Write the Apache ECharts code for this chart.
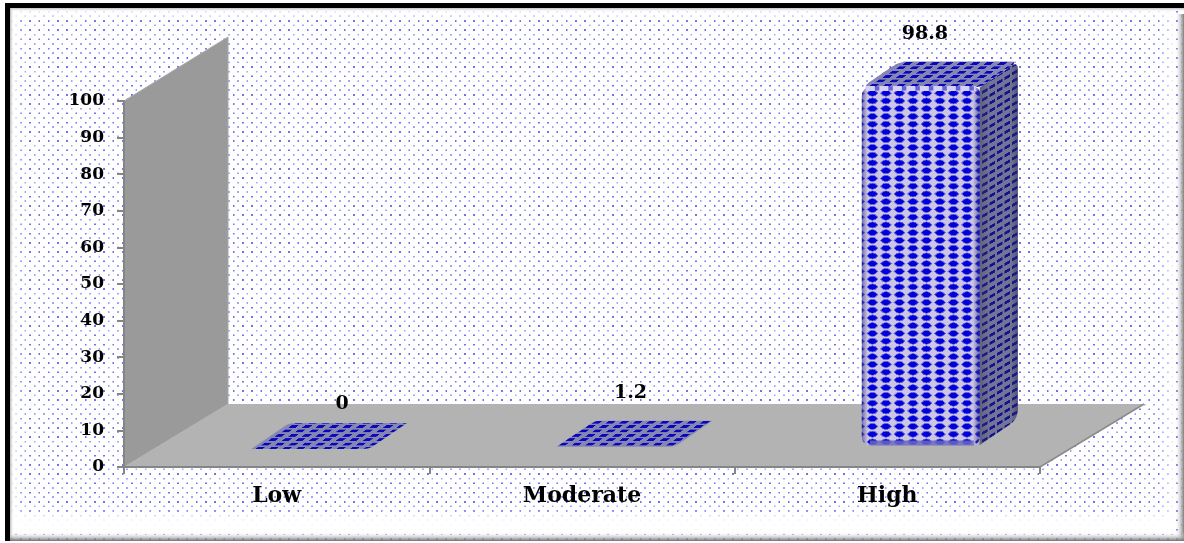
<!DOCTYPE html>
<html>
<head>
<meta charset="utf-8">
<style>
  html, body { margin: 0; padding: 0; background: #fff; }
  #chart { width: 1184px; height: 543px; }
</style>
<script src="https://cdn.jsdelivr.net/npm/echarts@6/dist/echarts.min.js"></script>
</head>
<body>
<div id="chart"></div>
<script>
const categories = ['Low', 'Moderate', 'High']
const values = [0, 1.2, 98.8]
const valueLabels = ['0', '1.2', '98.8']

// layout of the fake 3D box, in px
const wallDx = 104
const wallDy = 63
const barWidth = 118
const barShiftX = 33.5
const barLift = 18
const depthDx = 38
const depthDy = 26
const labelNudgeX = [13, -4, -15]
const labelGap = [19, 28, 27]
const labelFont = 'bold 19px "DejaVu Serif"'

function makeTile(w, h, draw) {
  const c = document.createElement('canvas')
  c.width = w
  c.height = h
  const ctx = c.getContext('2d')
  draw(ctx)
  return c
}

function blob(ctx, cx, cy, rx, ry) {
  ctx.beginPath()
  ctx.moveTo(cx - rx, cy)
  ctx.lineTo(cx - rx * 0.5, cy - ry * 0.8)
  ctx.lineTo(cx, cy - ry)
  ctx.lineTo(cx + rx * 0.5, cy - ry * 0.8)
  ctx.lineTo(cx + rx, cy)
  ctx.lineTo(cx + rx * 0.5, cy + ry * 0.8)
  ctx.lineTo(cx, cy + ry)
  ctx.lineTo(cx - rx * 0.5, cy + ry * 0.8)
  ctx.closePath()
  ctx.fill()
}

// tiles are drawn 4x and scaled down so they get a bit of blur, like the source
const frontTile = makeTile(54, 31, (ctx) => {
  ctx.fillStyle = '#cbc6e4'
  ctx.fillRect(0, 0, 54, 31)
  ctx.fillStyle = '#6a62dc'
  blob(ctx, 27, 15.5, 24, 14)
  ctx.fillStyle = '#0000d8'
  blob(ctx, 27, 15.5, 19, 10.5)
})

const sideTile = makeTile(150, 31, (ctx) => {
  ctx.fillStyle = '#76769a'
  ctx.fillRect(0, 0, 150, 31)
  ctx.fillStyle = '#10108e'
  for (let col = 0; col < 5; col++) {
    const cx = col * 30 + 15
    const cy = (31 - col * 18.6 % 31) % 31
    for (const off of [-31, 0, 31]) {
      ctx.beginPath()
      ctx.moveTo(cx - 11, cy + off + 2)
      ctx.lineTo(cx + 11, cy + off - 10)
      ctx.lineTo(cx + 11, cy + off + 2)
      ctx.lineTo(cx - 11, cy + off + 14)
      ctx.closePath()
      ctx.fill()
    }
  }
})

const topTile = makeTile(54, 35, (ctx) => {
  ctx.fillStyle = '#8686b4'
  ctx.fillRect(0, 0, 54, 35)
  ctx.fillStyle = '#0808b8'
  const dash = (cx, cy) => {
    ctx.beginPath()
    ctx.moveTo(cx - 21, cy + 5.5)
    ctx.lineTo(cx - 7, cy - 5.5)
    ctx.lineTo(cx + 21, cy - 5.5)
    ctx.lineTo(cx + 7, cy + 5.5)
    ctx.closePath()
    ctx.fill()
  }
  for (const [x, y] of [[13, 8.75], [67, 8.75], [-41, 8.75], [40, 26.25], [-14, 26.25]]) dash(x, y)
})

const dotTile = makeTile(37, 37, (ctx) => {
  ctx.fillStyle = '#ffffff'
  ctx.fillRect(0, 0, 37, 37)
  ctx.fillStyle = '#7272f0'
  ctx.fillRect(6, 6, 7, 7)
  ctx.fillStyle = '#a4a4f6'
  ctx.fillRect(24, 24, 7, 7)
})

const frontFill = { image: frontTile, repeat: 'repeat', scaleX: 0.25, scaleY: 0.25, x: 879.2, y: 228.8 }
const sideFill = { image: sideTile, repeat: 'repeat', scaleX: 0.25, scaleY: 0.25, x: 981, y: 230 }
const topFill = { image: topTile, repeat: 'repeat', scaleX: 0.25, scaleY: 0.25 }
const dotFill = { image: dotTile, repeat: 'repeat', scaleX: 0.25, scaleY: 0.25 }

// cuts each corner of a polygon with a small curve
function roundPoly(points, radii) {
  const out = []
  const n = points.length
  points.forEach((p, i) => {
    const r = radii[i]
    if (!r) {
      out.push(p)
      return
    }
    const a = points[(i + n - 1) % n]
    const b = points[(i + 1) % n]
    const la = Math.hypot(a[0] - p[0], a[1] - p[1])
    const lb = Math.hypot(b[0] - p[0], b[1] - p[1])
    const s = [p[0] + (a[0] - p[0]) * r / la, p[1] + (a[1] - p[1]) * r / la]
    const e = [p[0] + (b[0] - p[0]) * r / lb, p[1] + (b[1] - p[1]) * r / lb]
    for (let t = 0; t <= 1; t += 0.2) {
      const u = 1 - t
      out.push([u * u * s[0] + 2 * u * t * p[0] + t * t * e[0], u * u * s[1] + 2 * u * t * p[1] + t * t * e[1]])
    }
  })
  return out
}

function renderWalls(params) {
  const cs = params.coordSys
  const l = cs.x
  const r = cs.x + cs.width
  const t = cs.y
  const b = cs.y + cs.height
  return {
    type: 'group',
    children: [
      {
        type: 'polygon',
        shape: { points: [[l, t], [l + wallDx, t - wallDy - 1], [l + wallDx, b - wallDy], [l, b]] },
        style: { fill: '#9a9a9a', stroke: '#a8a8a8', lineWidth: 1 },
      },
      {
        type: 'polygon',
        shape: { points: [[l, b], [l + wallDx, b - wallDy], [r + wallDx, b - wallDy], [r, b]] },
        style: { fill: '#b3b3b3' },
      },
      {
        type: 'polyline',
        shape: { points: [[r + wallDx, b - wallDy], [r, b]] },
        style: { stroke: '#8a8a8a', lineWidth: 1.5, fill: 'none' },
      },
    ],
  }
}

function renderBar(params, api) {
  const i = api.value(0)
  const base = api.coord([i, 0])
  const top = api.coord([i, api.value(1)])
  const x0 = base[0] + barShiftX - barWidth / 2
  const x1 = x0 + barWidth
  const yBase = base[1] - barLift
  const tall = yBase - (top[1] - barLift) > 12
  const yTop = tall ? top[1] - barLift : (yBase + top[1] - barLift) / 2
  const yBottom = tall ? yBase - 4 : yTop
  const backY = yTop - depthDy
  const children = []

  if (tall) {
    const sidePts = [[x1, yTop], [x1 + depthDx, backY], [x1 + depthDx, yBottom - depthDy], [x1, yBottom]]
    children.push({
      type: 'polygon',
      shape: { points: roundPoly(sidePts, [0, 8, 10, 0]) },
      style: { fill: sideFill },
    })
    children.push({
      type: 'polygon',
      shape: { points: roundPoly(sidePts, [0, 8, 10, 0]) },
      style: {
        fill: {
          type: 'linear', x: 0, y: 0, x2: 1, y2: 0,
          colorStops: [
            { offset: 0, color: 'rgba(70,70,90,0.45)' },
            { offset: 0.25, color: 'rgba(70,70,90,0.05)' },
            { offset: 0.8, color: 'rgba(70,70,90,0.05)' },
            { offset: 1, color: 'rgba(40,40,90,0.5)' },
          ],
        },
      },
    })
    const frontPts = [[x0, yTop], [x1, yTop], [x1, yBottom], [x0, yBottom]]
    const front = roundPoly(frontPts, [9, 6, 9, 9])
    children.push({ type: 'polygon', shape: { points: front }, style: { fill: frontFill } })
    children.push({
      type: 'polygon',
      shape: { points: front },
      style: {
        fill: {
          type: 'linear', x: 0, y: 0, x2: 1, y2: 0,
          colorStops: [
            { offset: 0, color: 'rgba(50,50,130,0.6)' },
            { offset: 0.05, color: 'rgba(50,50,130,0)' },
            { offset: 0.94, color: 'rgba(50,50,130,0)' },
            { offset: 1, color: 'rgba(50,50,130,0.65)' },
          ],
        },
      },
    })
    // bevel along the bottom and top of the front face
    children.push({
      type: 'polyline',
      shape: { points: [[x0 + 8, yBottom - 2], [x1 - 6, yBottom - 2]] },
      style: { stroke: '#6a68c0', lineWidth: 5, fill: 'none', opacity: 0.85 },
    })
    children.push({
      type: 'polygon',
      shape: { points: roundPoly([[x0, yTop], [x0 + depthDx, backY], [x1 + depthDx, backY], [x1, yTop]], [9, 9, 8, 6]) },
      style: { fill: topFill },
    })
    children.push({
      type: 'polyline',
      shape: { points: [[x0 + 4, yTop + 1], [x1 - 4, yTop + 1]] },
      style: { stroke: '#6462d8', lineWidth: 4, fill: 'none' },
    })
    children.push({
      type: 'polyline',
      shape: { points: [[x0 + 4, yTop + 1], [x1 - 4, yTop + 1]] },
      style: { stroke: '#d4d0f6', lineWidth: 5, lineDash: [9, 4.5], fill: 'none' },
    })
  } else {
    children.push({
      type: 'polygon',
      shape: { points: roundPoly([[x0, yTop], [x0 + depthDx, backY], [x1 + depthDx, backY], [x1, yTop]], [1, 6, 1, 6]) },
      style: { fill: topFill },
    })
  }

  children.push({
    type: 'text',
    style: {
      text: valueLabels[i],
      x: x0 + barWidth / 2 + depthDx / 2 + labelNudgeX[i],
      y: backY - labelGap[i],
      font: labelFont,
      fill: '#000',
      textAlign: 'center',
      textVerticalAlign: 'middle',
    },
  })
  return { type: 'group', children }
}

function frameRect(x, y, width, height, fill) {
  return { type: 'rect', silent: true, shape: { x, y, width, height }, style: { fill } }
}

function fade(horizontal, stops) {
  return {
    type: 'linear', x: 0, y: 0, x2: horizontal ? 1 : 0, y2: horizontal ? 0 : 1,
    colorStops: stops.map((color, i) => ({ offset: i / (stops.length - 1), color })),
  }
}

const haze = ['rgba(255,255,255,0.9)', 'rgba(255,255,255,0.6)', 'rgba(255,255,255,0)']
const hazeBack = haze.slice().reverse()

const chart = echarts.init(document.getElementById('chart'), null, { renderer: 'canvas' })
chart.setOption({
  animation: false,
  backgroundColor: dotFill,
  grid: { left: 124, right: 144, top: 101, bottom: 76 },
  xAxis: {
    type: 'category',
    data: categories,
    z: 3,
    axisLine: { show: true, lineStyle: { color: '#858585', width: 2 } },
    axisTick: { show: true, length: 7, lineStyle: { color: '#858585', width: 2 } },
    axisLabel: { color: '#000', fontFamily: 'DejaVu Serif', fontWeight: 'bold', fontSize: 22, margin: 18 },
  },
  yAxis: {
    type: 'value',
    min: 0,
    max: 100,
    interval: 10,
    z: 3,
    axisLine: { show: true, lineStyle: { color: '#858585', width: 2 } },
    axisTick: { show: true, length: 7, lineStyle: { color: '#858585', width: 2 } },
    splitLine: { show: false },
    axisLabel: { color: '#000', fontFamily: 'DejaVu Serif', fontWeight: 'bold', fontSize: 17, margin: 20 },
  },
  graphic: [
    // bevelled picture frame round the chart
    frameRect(0, 0, 1184, 3, '#fff'),
    frameRect(0, 0, 5, 543, '#fff'),
    frameRect(0, 541, 1184, 2, '#fff'),
    frameRect(9, 9, 16, 524, fade(true, haze)),
    frameRect(9, 9, 1167, 12, fade(false, haze)),
    frameRect(1160, 9, 16, 524, fade(true, hazeBack)),
    frameRect(9, 508, 1167, 26, fade(false, hazeBack.map((c, i) => (i === 0 ? c : 'rgba(255,255,255,0.95)')))),
    frameRect(9, 8, 1175, 4, fade(false, ['#bdbdbd', 'rgba(255,255,255,0)'])),
    frameRect(9, 8, 5, 533, fade(true, ['#8f8f8f', 'rgba(255,255,255,0)'])),
    frameRect(1175, 14, 9, 527, fade(true, ['rgba(255,255,255,0)', '#7d7d7d'])),
    frameRect(9, 532, 1175, 9, fade(false, ['rgba(255,255,255,0)', '#6f6f6f'])),
    frameRect(5, 3, 1179, 5, '#000'),
    frameRect(5, 3, 5, 538, '#000'),
  ],
  series: [
    {
      type: 'custom',
      silent: true,
      clip: false,
      data: [0],
      encode: { x: 0 },
      renderItem: renderWalls,
      z: 1,
    },
    {
      type: 'custom',
      silent: true,
      clip: false,
      data: values.map((v, i) => [i, v]),
      encode: { x: 0, y: 1 },
      renderItem: renderBar,
      z: 2,
    },
  ],
})
</script>
</body>
</html>
